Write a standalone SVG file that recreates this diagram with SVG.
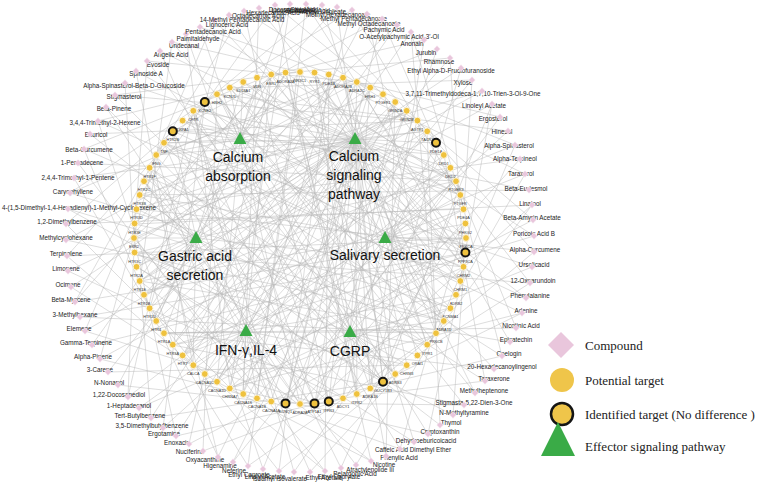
<svg xmlns="http://www.w3.org/2000/svg" xmlns:xlink="http://www.w3.org/1999/xlink" width="758" height="482" viewBox="0 0 758 482">
<style>
.e{fill:none;stroke:#b8b8b8;stroke-width:.6;stroke-opacity:.8}
#compounds text{font-family:"Liberation Sans",Arial,sans-serif;font-size:6.3px;fill:#222;text-anchor:middle}
#targets text{font-family:"Liberation Sans",Arial,sans-serif;font-size:3.8px;fill:#333;text-anchor:middle}
.t{fill:#efc23e;stroke:#fbf4e0;stroke-width:1}
.ti{fill:#efc23e;stroke:#151515;stroke-width:2}
.pw{fill:#3aab47}
.pl{font-family:"Liberation Sans",Arial,sans-serif;font-size:14px;fill:#111;text-anchor:middle}
.lg{font-family:"Liberation Serif","Times New Roman",serif;font-size:13px;fill:#222}
</style>
<defs>
<path id="d" d="M0-3.4L3.4 0 0 3.4-3.4 0Z" fill="#e9c6dc" stroke="#fff" stroke-width=".5"/>
</defs>
<rect width="758" height="482" fill="#fff"/>
<g id="connectors">
<path class="e" d="M534 236L173 345M534 236L286 73M534 252L137 209M534 252L370 388M534 252L427 131M532 267L164 143M532 267L230 388M530 283L135 253M530 283L383 94M530 283L417 355M526 298L173 131M526 298L243 82M522 313L230 388M522 313L164 143M522 313L357 394M516 328L164 333M516 328L456 181M510 342L140 281M510 342L357 82M502 356L164 143M502 356L300 404M502 356L460 195M494 369L230 88M494 369L164 333M485 381L150 168M485 381L444 155M485 381L343 398M475 393L230 88M475 393L315 73M464 405L173 345M464 405L217 94M464 405L286 403M453 415L135 253M453 415L464 267M440 425L140 195M440 425L427 131M428 434L217 94M428 434L230 388M428 434L464 267M414 442L300 72M414 442L137 267M400 449L193 111M400 449L465 224M400 449L271 402M386 456L315 73M386 456L395 102M371 461L140 281M371 461L286 73M371 461L217 382M356 465L144 181M356 465L436 333M341 468L173 131M341 468L460 195M325 471L134 238M325 471L329 75M325 471L183 355M310 472L164 143M310 472L407 365M294 472L193 111M294 472L465 224M279 471L329 75M279 471L150 308M279 471L407 365M263 469L407 111M263 469L156 155M248 466L300 72M248 466L436 333M248 466L173 345M233 462L407 111M233 462L456 181M218 457L150 168M218 457L395 102M218 457L144 295M203 451L217 94M203 451L343 398M189 444L271 75M189 444L450 308M176 436L395 102M176 436L134 238M176 436L343 398M163 428L450 168M163 428L205 102M151 418L370 88M151 418L383 382M151 418L140 281M139 408L456 181M139 408L464 267M128 397L193 111M128 397L444 155M128 397L135 224M118 385L286 73M118 385L271 402M108 372L343 78M108 372L407 365M100 359L450 168M100 359L156 155M100 359L257 398M92 345L465 253M92 345L286 73M85 331L427 131M85 331L315 403M85 331L137 209M80 317L465 253M80 317L436 333M75 302L271 75M75 302L466 238M75 302L164 143M71 287L370 88M71 287L193 365M68 271L407 111M68 271L343 398M67 256L466 238M67 256L205 102M67 256L193 365M66 240L444 321M66 240L357 82M66 224L464 209M66 224L230 388M66 224L173 131M68 209L444 321M68 209L383 382M70 193L343 78M70 193L450 308M70 193L217 94M74 178L427 131M74 178L150 308M78 163L456 181M78 163L257 398M84 149L450 308M84 149L271 75M84 149L150 308M90 134L395 374M90 134L417 121M98 121L460 281M98 121L173 345M98 121L230 88M106 107L383 382M106 107L300 404M115 95L417 121M115 95L395 374M115 95L300 72M125 83L460 195M125 83L134 238M136 71L465 253M136 71L193 365M147 61L395 374M147 61L357 82M147 61L135 224M160 51L315 403M160 51L460 195M172 42L427 345M172 42L140 281M172 42L300 72M186 34L315 403M186 34L230 388M200 27L456 181M200 27L329 402M200 27L370 88M214 20L460 281M214 20L156 155M229 15L444 321M229 15L150 308M244 11L329 402M244 11L417 121M244 11L156 155M259 8L243 394M259 8L464 267M275 5L357 394M275 5L140 195M275 5L383 94M290 4L230 388M290 4L164 333M306 4L465 253M306 4L257 398M306 4L427 131M322 5L427 345M322 5L205 102M337 7L383 382M337 7L135 224M352 10L243 394M352 10L460 195M352 10L217 94M367 14L183 355M367 14L436 333M382 19L286 403M382 19L173 131M382 19L436 143M397 25L173 345M397 25L137 267M411 32L436 333M411 32L183 355M411 32L464 209M424 40L370 388M424 40L271 75M437 49L315 403M437 49L156 155M450 58L183 355M450 58L464 267M450 58L286 73M461 68L140 281M461 68L370 388M472 80L217 382M472 80L230 88M472 80L464 209M482 91L140 281M482 91L140 195M492 104L383 382M492 104L144 295M492 104L460 281M500 117L286 403M500 117L357 82M508 131L230 388M508 131L217 94M515 145L144 295M515 145L436 333M515 145L357 82M520 159L137 209M520 159L300 404M525 174L156 321M525 174L315 73M525 174L456 295M529 190L140 195M529 190L183 121M532 205L315 403M532 205L135 224M532 205L427 345M533 220L217 382M533 220L417 121"/>
<path class="e" d="M240 139L300 72M240 139L383 94M240 139L444 155M240 139L466 238M240 139L444 321M240 139L383 382M240 139L300 404M240 139L217 382M240 139L156 321M240 139L134 238M240 139L156 155M240 139L164 143M240 139L173 131M240 139L183 121M240 139L193 111M240 139L205 102M240 139L217 94M240 139L230 88M240 139L243 82M240 139L257 78M240 139L271 75M240 139L286 73"/>
<path class="e" d="M355 139L300 72M355 139L315 73M355 139L329 75M355 139L343 78M355 139L357 82M355 139L370 88M355 139L383 94M355 139L395 102M355 139L407 111M355 139L417 121M355 139L427 131M355 139L436 143M355 139L444 155M355 139L450 168M355 139L456 181M355 139L460 195M355 139L464 209M355 139L466 238M355 139L465 253M355 139L464 267M355 139L460 281M355 139L456 295M355 139L444 321M355 139L436 333M355 139L427 345M355 139L407 365M355 139L395 374M355 139L383 382M355 139L370 388M355 139L357 394M355 139L329 402M355 139L315 403M355 139L300 404M355 139L286 403M355 139L271 402M355 139L243 394M355 139L217 382M355 139L205 374M355 139L193 365M355 139L173 345M355 139L156 321M355 139L150 308M355 139L144 295M355 139L137 267M355 139L134 238M355 139L135 224M355 139L137 209M355 139L144 181M355 139L156 155M355 139L164 143M355 139L173 131M355 139L193 111M355 139L217 94M355 139L230 88M355 139L243 82M355 139L271 75"/>
<path class="e" d="M196 238L329 75M196 238L407 111M196 238L456 181M196 238L464 267M196 238L427 345M196 238L357 394M196 238L271 402M196 238L193 365M196 238L156 321M196 238L150 308M196 238L144 295M196 238L140 281M196 238L137 267M196 238L135 253M196 238L134 238M196 238L135 224M196 238L137 209M196 238L140 195M196 238L144 181M196 238L150 168M196 238L173 131M196 238L243 82"/>
<path class="e" d="M385 238L343 78M385 238L417 121M385 238L444 155M385 238L450 168M385 238L456 181M385 238L460 195M385 238L464 209M385 238L465 224M385 238L466 238M385 238L465 253M385 238L464 267M385 238L460 281M385 238L456 295M385 238L450 308M385 238L417 355M385 238L343 398M385 238L257 398M385 238L183 355M385 238L140 281M385 238L140 195M385 238L183 121M385 238L257 78"/>
<path class="e" d="M246 331L357 82M246 331L427 131M246 331L464 209M246 331L456 295M246 331L407 365M246 331L329 402M246 331L300 404M246 331L286 403M246 331L271 402M246 331L257 398M246 331L243 394M246 331L230 388M246 331L217 382M246 331L205 374M246 331L193 365M246 331L183 355M246 331L173 345M246 331L164 333M246 331L137 267M246 331L144 181M246 331L193 111M246 331L271 75"/>
<path class="e" d="M350 332L315 73M350 332L370 88M350 332L395 102M350 332L436 143M350 332L465 224M350 332L450 308M350 332L444 321M350 332L436 333M350 332L427 345M350 332L417 355M350 332L407 365M350 332L395 374M350 332L383 382M350 332L370 388M350 332L357 394M350 332L343 398M350 332L329 402M350 332L315 403M350 332L230 388M350 332L164 333M350 332L135 253M350 332L150 168M350 332L205 102M350 332L286 73"/>
</g>
<g id="compounds">
<g id="c0"><text x="534" y="235.5">Poricoic Acid B</text><use href="#d" x="534" y="236"/></g>
<g id="c1"><text x="535" y="251.5">Alpha-Curcumene</text><use href="#d" x="534" y="252"/></g>
<g id="c2"><text x="534" y="266.5">Ursolicacid</text><use href="#d" x="532" y="267"/></g>
<g id="c3"><text x="533" y="282.5">12-Oxoarundoin</text><use href="#d" x="530" y="283"/></g>
<g id="c4"><text x="530" y="297.5">Phenylalanine</text><use href="#d" x="526" y="298"/></g>
<g id="c5"><text x="526" y="312.5">Adenine</text><use href="#d" x="522" y="313"/></g>
<g id="c6"><text x="521" y="327.5">Nicotinic Acid</text><use href="#d" x="516" y="328"/></g>
<g id="c7"><text x="516" y="341.5">Epicatechin</text><use href="#d" x="510" y="342"/></g>
<g id="c8"><text x="509" y="355.5">Coelogin</text><use href="#d" x="502" y="356"/></g>
<g id="c9"><text x="502" y="368.5">20-Hexadecanoylingenol</text><use href="#d" x="494" y="369"/></g>
<g id="c10"><text x="494" y="380.5">Taraxerone</text><use href="#d" x="485" y="381"/></g>
<g id="c11"><text x="484" y="392.5">Methylheptenone</text><use href="#d" x="475" y="393"/></g>
<g id="c12"><text x="474" y="404.5">Stigmasta-5,22-Dien-3-One</text><use href="#d" x="464" y="405"/></g>
<g id="c13"><text x="464" y="414.5">N-Methyltyramine</text><use href="#d" x="453" y="415"/></g>
<g id="c14"><text x="451" y="424.5">Thymol</text><use href="#d" x="440" y="425"/></g>
<g id="c15"><text x="440" y="433.5">Cryptoxanthin</text><use href="#d" x="428" y="434"/></g>
<g id="c16"><text x="426" y="442.9">Dehydroeburicoicacid</text><use href="#d" x="414" y="442"/></g>
<g id="c17"><text x="413" y="451.7">Caffeic Acid Dimethyl Ether</text><use href="#d" x="400" y="449"/></g>
<g id="c18"><text x="399" y="460.3">Phenylic Acid</text><use href="#d" x="386" y="456"/></g>
<g id="c19"><text x="384" y="466.7">Nicotine</text><use href="#d" x="371" y="461"/></g>
<g id="c20"><text x="370" y="471.8">Atractylenolide Iii</text><use href="#d" x="356" y="465"/></g>
<g id="c21"><text x="355" y="475.6">Pelargonic Acid</text><use href="#d" x="341" y="468"/></g>
<g id="cm72"><text x="339" y="479.1">Ethyl Caprylate</text><use href="#d" x="325" y="471"/></g>
<g id="cm71"><text x="324" y="480.4">Ethyl Acetate</text><use href="#d" x="310" y="472"/></g>
<g id="cm70"><text x="280" y="480.5">Isoamyl Isovalerate</text><use href="#d" x="294" y="472"/></g>
<g id="cm69"><text x="265" y="479.3">Linalyl Acetate</text><use href="#d" x="279" y="471"/></g>
<g id="cm68"><text x="249" y="476.8">Ethyl Caproate</text><use href="#d" x="263" y="469"/></g>
<g id="cm67"><text x="234" y="473">Neferine</text><use href="#d" x="248" y="466"/></g>
<g id="cm66"><text x="220" y="468">Higenamine</text><use href="#d" x="233" y="462"/></g>
<g id="cm65"><text x="205" y="461.7">Oxyacanthine</text><use href="#d" x="218" y="457"/></g>
<g id="cm64"><text x="190" y="454.2">Nuciferine</text><use href="#d" x="203" y="451"/></g>
<g id="cm63"><text x="177" y="445.4">Enoxacin</text><use href="#d" x="189" y="444"/></g>
<g id="cm62"><text x="164" y="435.5">Ergotamine</text><use href="#d" x="176" y="436"/></g>
<g id="cm61"><text x="152" y="427.5">3,5-Dimethylbutylbenzene</text><use href="#d" x="163" y="428"/></g>
<g id="cm60"><text x="140" y="417.5">Tert-Butylbenzene</text><use href="#d" x="151" y="418"/></g>
<g id="cm59"><text x="129" y="407.5">1-Heptadecanol</text><use href="#d" x="139" y="408"/></g>
<g id="cm58"><text x="119" y="396.5">1,22-Docosanediol</text><use href="#d" x="128" y="397"/></g>
<g id="cm57"><text x="109" y="384.5">N-Nonanol</text><use href="#d" x="118" y="385"/></g>
<g id="cm56"><text x="100" y="371.5">3-Carene</text><use href="#d" x="108" y="372"/></g>
<g id="cm55"><text x="93" y="358.5">Alpha-Pinene</text><use href="#d" x="100" y="359"/></g>
<g id="cm54"><text x="86" y="344.5">Gamma-Terpinene</text><use href="#d" x="92" y="345"/></g>
<g id="cm53"><text x="79" y="330.5">Elemene</text><use href="#d" x="85" y="331"/></g>
<g id="cm52"><text x="75" y="316.5">3-Methylhexane</text><use href="#d" x="80" y="317"/></g>
<g id="cm51"><text x="71" y="301.5">Beta-Myrcene</text><use href="#d" x="75" y="302"/></g>
<g id="cm50"><text x="68" y="286.5">Ocimene</text><use href="#d" x="71" y="287"/></g>
<g id="cm49"><text x="66" y="270.5">Limonene</text><use href="#d" x="68" y="271"/></g>
<g id="cm48"><text x="66" y="255.5">Terpinolene</text><use href="#d" x="67" y="256"/></g>
<g id="cm47"><text x="66" y="239.5">Methylcyclohexane</text><use href="#d" x="66" y="240"/></g>
<g id="cm46"><text x="67" y="224">1,2-Dimethylbenzene</text><use href="#d" x="66" y="224"/></g>
<g id="cm45"><text x="79" y="209.5">4-(1,5-Dimethyl-1,4-Hexadienyl)-1-Methyl-Cyclohexene</text><use href="#d" x="68" y="209"/></g>
<g id="cm44"><text x="73" y="194">Caryophyllene</text><use href="#d" x="70" y="193"/></g>
<g id="cm43"><text x="78" y="179.5">2,4,4-Trimethyl-1-Pentene</text><use href="#d" x="74" y="178"/></g>
<g id="cm42"><text x="82" y="165.1">1-Pentadecene</text><use href="#d" x="78" y="163"/></g>
<g id="cm41"><text x="89" y="151.6">Beta-Curcumene</text><use href="#d" x="84" y="149"/></g>
<g id="cm40"><text x="96" y="137">Eburicol</text><use href="#d" x="90" y="134"/></g>
<g id="cm39"><text x="105" y="124.5">3,4,4-Trimethyl-2-Hexene</text><use href="#d" x="98" y="121"/></g>
<g id="cm38"><text x="114" y="111">Beta-Pinene</text><use href="#d" x="106" y="107"/></g>
<g id="cm37"><text x="124" y="99.4">Stigmasterol</text><use href="#d" x="115" y="95"/></g>
<g id="cm36"><text x="134" y="87.8">Alpha-Spinasterol-Beta-D-Glucoside</text><use href="#d" x="125" y="83"/></g>
<g id="cm35"><text x="146" y="76.2">Spinoside A</text><use href="#d" x="136" y="71"/></g>
<g id="cm34"><text x="158" y="66.6">Evoside</text><use href="#d" x="147" y="61"/></g>
<g id="cm33"><text x="171" y="56.9">Angelic Acid</text><use href="#d" x="160" y="51"/></g>
<g id="cm32"><text x="184" y="48.2">Undecanal</text><use href="#d" x="172" y="42"/></g>
<g id="cm31"><text x="198" y="40.5">Palmitaldehyde</text><use href="#d" x="186" y="34"/></g>
<g id="cm30"><text x="213" y="33.7">Pentadecanoic Acid</text><use href="#d" x="200" y="27"/></g>
<g id="cm29"><text x="227" y="26.9">Lignoceric Acid</text><use href="#d" x="214" y="20"/></g>
<g id="cm28"><text x="242" y="22.1">14-Methyl Pentadecanoic Acid</text><use href="#d" x="229" y="15"/></g>
<g id="cm27"><text x="258" y="18.3">Octadecanoic Acid</text><use href="#d" x="244" y="11"/></g>
<g id="cm26"><text x="273" y="15.4">Hexadecanoic Acid</text><use href="#d" x="259" y="8"/></g>
<g id="cm25"><text x="289" y="12.5">Linoleic Acid</text><use href="#d" x="275" y="5"/></g>
<g id="cm24"><text x="304" y="11.5">Oleic Acid</text><use href="#d" x="290" y="4"/></g>
<g id="cm23"><text x="292" y="11.5">Docosanoic Acid</text><use href="#d" x="306" y="4"/></g>
<g id="cm22"><text x="308" y="12.5">Eicosanoic Acid</text><use href="#d" x="322" y="5"/></g>
<g id="cm21"><text x="323" y="14.4">Methyl Linoleate</text><use href="#d" x="337" y="7"/></g>
<g id="cm20"><text x="338" y="17.3">Methyl Hexadecanoate</text><use href="#d" x="352" y="10"/></g>
<g id="cm19"><text x="354" y="21.2">Methyl Pentadecanoate</text><use href="#d" x="367" y="14"/></g>
<g id="cm18"><text x="369" y="26">Methyl Octadecanoate</text><use href="#d" x="382" y="19"/></g>
<g id="cm17"><text x="384" y="31.8">Pachymic Acid</text><use href="#d" x="397" y="25"/></g>
<g id="cm16"><text x="399" y="38.5">O-Acetylpachymic Acid-3'-Ol</text><use href="#d" x="411" y="32"/></g>
<g id="cm15"><text x="412" y="46.3">Anonain</text><use href="#d" x="424" y="40"/></g>
<g id="cm14"><text x="426" y="55">Jurubin</text><use href="#d" x="437" y="49"/></g>
<g id="cm13"><text x="439" y="63.7">Rhamnose</text><use href="#d" x="450" y="58"/></g>
<g id="cm12"><text x="451" y="73.3">Ethyl Alpha-D-Fructofuranoside</text><use href="#d" x="461" y="68"/></g>
<g id="cm11"><text x="463" y="84.9">Xylose</text><use href="#d" x="472" y="80"/></g>
<g id="cm10"><text x="473" y="95.5">3,7,11-Trimethyldodeca-1,7,10-Trien-3-Ol-9-One</text><use href="#d" x="482" y="91"/></g>
<g id="cm9"><text x="484" y="108.1">Linoleyl Acetate</text><use href="#d" x="492" y="104"/></g>
<g id="cm8"><text x="493" y="120.6">Ergosterol</text><use href="#d" x="500" y="117"/></g>
<g id="cm7"><text x="502" y="134.2">Hinesol</text><use href="#d" x="508" y="131"/></g>
<g id="cm6"><text x="509" y="147.7">Alpha-Spinasterol</text><use href="#d" x="515" y="145"/></g>
<g id="cm5"><text x="515" y="161.2">Alpha-Terpineol</text><use href="#d" x="520" y="159"/></g>
<g id="cm4"><text x="521" y="175.7">Taraxerol</text><use href="#d" x="525" y="174"/></g>
<g id="cm3"><text x="526" y="191.2">Beta-Eudesmol</text><use href="#d" x="529" y="190"/></g>
<g id="cm2"><text x="530" y="205.6">Linalool</text><use href="#d" x="532" y="205"/></g>
<g id="cm1"><text x="532" y="220.1">Beta-Amyrin Acetate</text><use href="#d" x="533" y="220"/></g>
</g>
<g id="targets">
<g id="t0"><circle class="t" cx="300" cy="72" r="3.4"/><text x="300" y="82">NR3C1</text></g>
<g id="t1"><circle class="t" cx="314.5" cy="72.6" r="3.4"/><text x="314.5" y="82.6">RYR1</text></g>
<g id="t2"><circle class="t" cx="328.8" cy="74.5" r="3.4"/><text x="328.8" y="84.5">PDE1B</text></g>
<g id="t3"><circle class="t" cx="343" cy="77.7" r="3.4"/><text x="343" y="87.7">ADORA2B</text></g>
<g id="t4"><circle class="t" cx="356.8" cy="82" r="3.4"/><text x="356.8" y="92">ADRA2C</text></g>
<g id="t5"><circle class="t" cx="370.2" cy="87.6" r="3.4"/><text x="370.2" y="97.6">HRH1</text></g>
<g id="t6"><circle class="t" cx="383" cy="94.2" r="3.4"/><text x="383" y="104.2">PTGER1</text></g>
<g id="t7"><circle class="t" cx="395.2" cy="102" r="3.4"/><text x="395.2" y="112">GRIN2A</text></g>
<g id="t8"><circle class="t" cx="406.7" cy="110.8" r="3.4"/><text x="406.7" y="120.8">GRIN2B</text></g>
<g id="t9"><circle class="t" cx="417.4" cy="120.6" r="3.4"/><text x="417.4" y="130.6">AGTR1</text></g>
<g id="t10"><circle class="t" cx="427.2" cy="131.3" r="3.4"/><text x="427.2" y="141.3">TACR1</text></g>
<g id="t11"><circle class="ti" cx="436" cy="142.8" r="4"/><text x="436" y="152.8">PDE1A</text></g>
<g id="t12"><circle class="t" cx="443.8" cy="155" r="3.4"/><text x="443.8" y="165">DRD1</text></g>
<g id="t13"><circle class="t" cx="450.4" cy="167.8" r="3.4"/><text x="450.4" y="177.8">DRD2</text></g>
<g id="t14"><circle class="t" cx="456" cy="181.2" r="3.4"/><text x="456" y="191.2">PTGER3</text></g>
<g id="t15"><circle class="t" cx="460.3" cy="195" r="3.4"/><text x="460.3" y="205">PTGFR</text></g>
<g id="t16"><circle class="t" cx="463.5" cy="209.2" r="3.4"/><text x="463.5" y="219.2">PDE4A</text></g>
<g id="t17"><circle class="t" cx="465.4" cy="223.5" r="3.4"/><text x="465.4" y="233.5">PHKG2</text></g>
<g id="t18"><circle class="t" cx="466" cy="238" r="3.4"/><text x="466" y="248">PRKCA</text></g>
<g id="t19"><circle class="ti" cx="465.4" cy="252.5" r="4"/><text x="465.4" y="262.5">PPP3CA</text></g>
<g id="t20"><circle class="t" cx="463.5" cy="266.8" r="3.4"/><text x="463.5" y="276.8">CHRM2</text></g>
<g id="t21"><circle class="t" cx="460.3" cy="281" r="3.4"/><text x="460.3" y="291">CHRM1</text></g>
<g id="t22"><circle class="t" cx="456" cy="294.8" r="3.4"/><text x="456" y="304.8">ADRB2</text></g>
<g id="t23"><circle class="t" cx="450.4" cy="308.2" r="3.4"/><text x="450.4" y="318.2">KCNMA1</text></g>
<g id="t24"><circle class="t" cx="443.8" cy="321" r="3.4"/><text x="443.8" y="331">ADRA1D</text></g>
<g id="t25"><circle class="t" cx="436" cy="333.2" r="3.4"/><text x="436" y="343.2">PRKCB</text></g>
<g id="t26"><circle class="t" cx="427.2" cy="344.7" r="3.4"/><text x="427.2" y="354.7">ITPR1</text></g>
<g id="t27"><circle class="t" cx="417.4" cy="355.4" r="3.4"/><text x="417.4" y="365.4">ORAI1</text></g>
<g id="t28"><circle class="t" cx="406.7" cy="365.2" r="3.4"/><text x="406.7" y="375.2">CHRM3</text></g>
<g id="t29"><circle class="t" cx="395.2" cy="374" r="3.4"/><text x="395.2" y="384">ADRB3</text></g>
<g id="t30"><circle class="ti" cx="383" cy="381.8" r="4"/><text x="383" y="391.8">GUCY1B3</text></g>
<g id="t31"><circle class="t" cx="370.2" cy="388.4" r="3.4"/><text x="370.2" y="398.4">ADRA1B</text></g>
<g id="t32"><circle class="t" cx="356.8" cy="394" r="3.4"/><text x="356.8" y="404">ITPR2</text></g>
<g id="t33"><circle class="t" cx="343" cy="398.3" r="3.4"/><text x="343" y="408.3">ADCY1</text></g>
<g id="t34"><circle class="ti" cx="328.8" cy="401.5" r="4"/><text x="328.8" y="411.5">ITPR3</text></g>
<g id="t35"><circle class="ti" cx="314.5" cy="403.4" r="4"/><text x="314.5" y="413.4">ATP1A1</text></g>
<g id="t36"><circle class="t" cx="300" cy="404" r="3.4"/><text x="300" y="414">ADRA2A</text></g>
<g id="t37"><circle class="ti" cx="285.5" cy="403.4" r="4"/><text x="285.5" y="413.4">KCNQ1</text></g>
<g id="t38"><circle class="t" cx="271.2" cy="401.5" r="3.4"/><text x="271.2" y="411.5">CACNA1A</text></g>
<g id="t39"><circle class="t" cx="257" cy="398.3" r="3.4"/><text x="257" y="408.3">CACNA1B</text></g>
<g id="t40"><circle class="t" cx="243.2" cy="394" r="3.4"/><text x="243.2" y="404">CACNA1S</text></g>
<g id="t41"><circle class="t" cx="229.8" cy="388.4" r="3.4"/><text x="229.8" y="398.4">CHRNA7</text></g>
<g id="t42"><circle class="t" cx="217" cy="381.8" r="3.4"/><text x="217" y="391.8">CACNA1D</text></g>
<g id="t43"><circle class="t" cx="204.8" cy="374" r="3.4"/><text x="204.8" y="384">CACNA1C</text></g>
<g id="t44"><circle class="t" cx="193.3" cy="365.2" r="3.4"/><text x="193.3" y="375.2">CALCA</text></g>
<g id="t45"><circle class="t" cx="182.6" cy="355.4" r="3.4"/><text x="182.6" y="365.4">HTR7</text></g>
<g id="t46"><circle class="t" cx="172.8" cy="344.7" r="3.4"/><text x="172.8" y="354.7">HTR3A</text></g>
<g id="t47"><circle class="t" cx="164" cy="333.2" r="3.4"/><text x="164" y="343.2">HTR1A</text></g>
<g id="t48"><circle class="t" cx="156.2" cy="321" r="3.4"/><text x="156.2" y="331">HTR4</text></g>
<g id="t49"><circle class="t" cx="149.6" cy="308.2" r="3.4"/><text x="149.6" y="318.2">HTR1D</text></g>
<g id="t50"><circle class="t" cx="144" cy="294.8" r="3.4"/><text x="144" y="304.8">HTR1B</text></g>
<g id="t51"><circle class="t" cx="139.7" cy="281" r="3.4"/><text x="139.7" y="291">HTR1E</text></g>
<g id="t52"><circle class="t" cx="136.5" cy="266.8" r="3.4"/><text x="136.5" y="276.8">HTR2A</text></g>
<g id="t53"><circle class="t" cx="134.6" cy="252.5" r="3.4"/><text x="134.6" y="262.5">HTR3C</text></g>
<g id="t54"><circle class="t" cx="134" cy="238" r="3.4"/><text x="134" y="248">ESR2</text></g>
<g id="t55"><circle class="t" cx="134.6" cy="223.5" r="3.4"/><text x="134.6" y="233.5">HTR3E</text></g>
<g id="t56"><circle class="t" cx="136.5" cy="209.2" r="3.4"/><text x="136.5" y="219.2">HTR3D</text></g>
<g id="t57"><circle class="t" cx="139.7" cy="195" r="3.4"/><text x="139.7" y="205">HTR3B</text></g>
<g id="t58"><circle class="t" cx="144" cy="181.2" r="3.4"/><text x="144" y="191.2">HTR2C</text></g>
<g id="t59"><circle class="t" cx="149.6" cy="167.8" r="3.4"/><text x="149.6" y="177.8">HTR1F</text></g>
<g id="t60"><circle class="t" cx="156.2" cy="155" r="3.4"/><text x="156.2" y="165">IFNG</text></g>
<g id="t61"><circle class="t" cx="164" cy="142.8" r="3.4"/><text x="164" y="152.8">TNF</text></g>
<g id="t62"><circle class="ti" cx="172.8" cy="131.3" r="4"/><text x="172.8" y="141.3">HTR2B</text></g>
<g id="t63"><circle class="t" cx="182.6" cy="120.6" r="3.4"/><text x="182.6" y="130.6">TRPA1</text></g>
<g id="t64"><circle class="t" cx="193.3" cy="110.8" r="3.4"/><text x="193.3" y="120.8">CFTR</text></g>
<g id="t65"><circle class="ti" cx="204.8" cy="102" r="4"/><text x="204.8" y="112">KCNE2</text></g>
<g id="t66"><circle class="t" cx="217" cy="94.2" r="3.4"/><text x="217" y="104.2">HRH2</text></g>
<g id="t67"><circle class="t" cx="229.8" cy="87.6" r="3.4"/><text x="229.8" y="97.6">KCNJ1</text></g>
<g id="t68"><circle class="t" cx="243.2" cy="82" r="3.4"/><text x="243.2" y="92">SLC8A1</text></g>
<g id="t69"><circle class="t" cx="257" cy="77.7" r="3.4"/><text x="257" y="87.7">VDR</text></g>
<g id="t70"><circle class="t" cx="271.2" cy="74.5" r="3.4"/><text x="271.2" y="84.5">ESR1</text></g>
<g id="t71"><circle class="t" cx="285.5" cy="72.6" r="3.4"/><text x="285.5" y="82.6">ADORA2A</text></g>
</g>
<g id="p-calcium-absorption"><path class="pw" d="M240 132L246.5 144H233.5Z"/><text class="pl" x="238" y="162">Calcium</text><text class="pl" x="238" y="181">absorption</text></g>
<g id="p-calcium-signaling"><path class="pw" d="M355 132L361.5 144H348.5Z"/><text class="pl" x="354" y="161">Calcium</text><text class="pl" x="354" y="180">signaling</text><text class="pl" x="354" y="199">pathway</text></g>
<g id="p-gastric"><path class="pw" d="M196 231L202.5 243H189.5Z"/><text class="pl" x="195" y="261">Gastric acid</text><text class="pl" x="195" y="280">secretion</text></g>
<g id="p-salivary"><path class="pw" d="M385 231L391.5 243H378.5Z"/><text class="pl" x="385" y="260">Salivary secretion</text></g>
<g id="p-ifn"><path class="pw" d="M246 324L252.5 336H239.5Z"/><text class="pl" x="246" y="355">IFN-γ,IL-4</text></g>
<g id="p-cgrp"><path class="pw" d="M350 325L356.5 337H343.5Z"/><text class="pl" x="350" y="356">CGRP</text></g>
<g id="legend">
<path d="M561 332L574 345 561 358 548 345Z" fill="#e9c6dc"/>
<text class="lg" x="585" y="349.5">Compound</text>
<circle cx="562" cy="380" r="12" fill="#efc54a"/>
<text class="lg" x="585" y="384.5">Potential target</text>
<circle cx="562" cy="414" r="11" fill="#efc54a" stroke="#151515" stroke-width="2.5"/>
<text class="lg" x="585" y="419">Identified target (No difference )</text>
<path d="M558 422L575 456H541Z" fill="#3aab47"/>
<text class="lg" x="585" y="451">Effector signaling pathway</text>
</g>
</svg>
